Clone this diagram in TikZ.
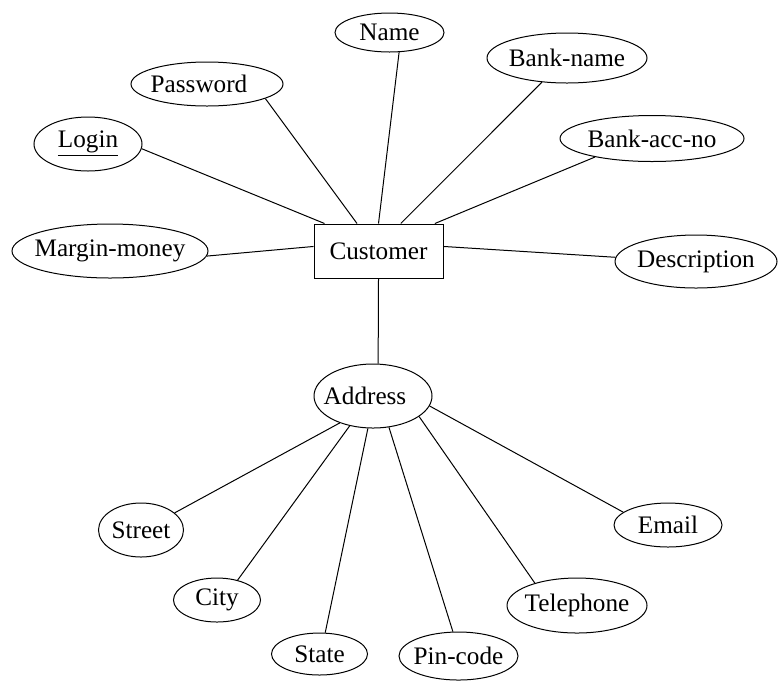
\documentclass[tikz,border=0pt]{standalone}
\usepackage{fontspec}
\setmainfont{Liberation Serif}
\usetikzlibrary{shapes.geometric}

% zero-width label so the ellipse keeps its given size
\newcommand{\ztext}[1]{\makebox[0pt]{#1}}

\begin{document}
\begin{tikzpicture}[x=0.5pt, y=-0.5pt,
  font=\fontsize{12.6}{15}\selectfont,
  attr/.style n args={2}{ellipse, draw, line width=0.5pt, inner sep=0pt,
    minimum width=#1, minimum height=#2},
  entity/.style={rectangle, draw, line width=0.5pt, inner sep=0pt,
    minimum width=64.5pt, minimum height=27pt},
  link/.style={line width=0.5pt}]

\useasboundingbox (0,0) rectangle (779,681);

% entity
\node[entity] (cust) at (378.5,251) {\ztext{Customer}};

% attributes of Customer
\node[attr={54.5pt}{19.5pt}] (name)  at (389.5,32.5) {\ztext{Name}};
\node[attr={76pt}{22pt}]     (pass)  at (207,84)     {\ztext{\hspace*{-8pt}Password}};
\node[attr={54pt}{27pt}]     (login) at (88,144)     {\ztext{\underline{Login}}};
\node[attr={98pt}{27pt}]     (marg)  at (110,251)    {\ztext{Margin-money}};
\node[attr={80pt}{25pt}]     (bname) at (567,58)     {\ztext{Bank-name}};
\node[attr={92pt}{23pt}]     (bacc)  at (652,138.5)  {\ztext{Bank-acc-no}};
\node[attr={81pt}{26.5pt}]   (desc)  at (696,261.5)  {\ztext{Description}};

% composite attribute and its parts
\node[attr={59pt}{32pt}]     (addr)  at (373,396)    {\ztext{\hspace*{-8pt}Address}};
\node[attr={42.5pt}{27pt}]   (street) at (141,530)   {\ztext{Street}};
\node[attr={43.5pt}{22pt}]   (city)  at (217,600)    {\ztext{City}};
\node[attr={48pt}{21pt}]     (state) at (319.5,654)  {\ztext{State}};
\node[attr={59.5pt}{24pt}]   (pin)   at (458.5,656)  {\ztext{Pin-code}};
\node[attr={70pt}{27.5pt}]   (tel)   at (577,605.5)  {\ztext{Telephone}};
\node[attr={54pt}{22pt}]     (email) at (668,525)    {\ztext{Email}};

% connectors
\draw[link] (login.-5)   -- (cust.153.2);
\draw[link] (pass.-14)   -- (cust.128.5);
\draw[link] (name.-64)   -- (cust.90);
\draw[link] (bname.-136) -- (cust.51.5);
\draw[link] (bacc.-162)  -- (cust.26.8);
\draw[link] (marg.-3)    -- (cust.176.5);
\draw[link] (desc.177)   -- (cust.4.4);
\draw[link] (cust.south) -- (addr.81);

\draw[link] (addr.-141) -- (street.27);
\draw[link] (addr.-128) -- (city.44);
\draw[link] (addr.-99)  -- (state.75);
\draw[link] (addr.-63)  -- (pin.103);
\draw[link] (addr.-24)  -- (tel.152);
\draw[link] (addr.-10)  -- (email.164);

\end{tikzpicture}
\end{document}
